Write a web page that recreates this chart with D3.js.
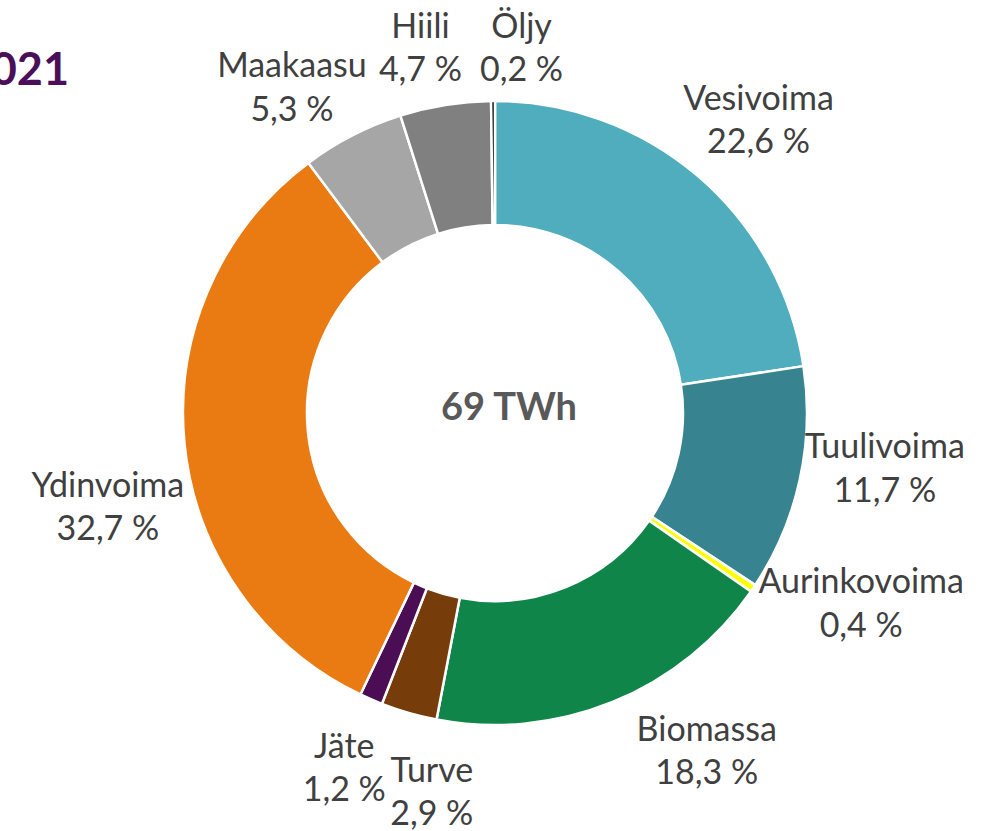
<!DOCTYPE html>
<html>
<head>
<meta charset="utf-8">
<script src="https://cdn.jsdelivr.net/npm/d3@7"></script>
<style>
  body { margin: 0; background: #fff; }
  svg { display: block; font-family: Lato, "Open Sans", sans-serif; }
</style>
</head>
<body>
<div id="chart"></div>
<script>
// electricity production by source, Finland 2021 (share, %)
const sources = ["Vesivoima", "Tuulivoima", "Aurinkovoima", "Biomassa", "Turve", "Jäte", "Ydinvoima", "Maakaasu", "Hiili", "Öljy"];
const shares = [22.6, 11.7, 0.4, 18.3, 2.9, 1.2, 32.7, 5.3, 4.7, 0.2];
const colors = ["#4fadbd", "#37838f", "#ffff00", "#10854a", "#763c0a", "#4b0e55", "#ea7a12", "#a6a6a6", "#808080", "#000000"];
const totalLabel = "69 TWh";
const yearLabel = "2021";

// label nudges (px) from the arc centroid, so text sits where Excel put it
const nudge = [[8, 3], [7, -30], [42, -31], [64, -26], [45, 1], [5, -6], [3, 55], [-24, 22], [-12, 21], [29, 26]];

const width = 981, height = 831;
const cx = 495, cy = 413;
const outerR = 312, innerR = 188, labelR = 392;

const svg = d3.select("#chart")
    .append("svg")
    .attr("width", width)
    .attr("height", height);

// year title, cut at the left edge like in the original slide
svg.append("text")
    .attr("x", 69)
    .attr("y", 85)
    .attr("text-anchor", "end")
    .attr("font-size", 45)
    .attr("font-weight", "bold")
    .attr("fill", "#4b0f5a")
    .text(yearLabel);

const g = svg.append("g")
    .attr("transform", `translate(${cx},${cy})`);

const data = sources.map((s, i) => ({ name: s, value: shares[i], color: colors[i], i: i }));

const pie = d3.pie()
    .sort(null)
    .value(d => d.value);

const arc = d3.arc()
    .innerRadius(innerR)
    .outerRadius(outerR);

const labelArc = d3.arc()
    .innerRadius(labelR)
    .outerRadius(labelR);

const arcs = pie(data);

g.selectAll("path")
    .data(arcs)
    .join("path")
    .attr("d", arc)
    .attr("fill", d => d.data.color)
    .attr("stroke", "#fff")
    .attr("stroke-width", 2.5)
    .attr("stroke-linejoin", "round");

// slice labels: name + share
const labels = g.selectAll(".lbl")
    .data(arcs)
    .join("text")
    .attr("class", "lbl")
    .attr("text-anchor", "middle")
    .attr("font-size", 34)
    .attr("fill", "#404040")
    .attr("transform", d => {
        const c = labelArc.centroid(d);
        const n = nudge[d.data.i];
        return `translate(${c[0] + n[0]},${c[1] + n[1]})`;
    });

labels.append("tspan")
    .attr("x", 0)
    .attr("dy", "-0.27em")
    .text(d => d.data.name);

labels.append("tspan")
    .attr("x", 0)
    .attr("dy", "1.28em")
    .text(d => d3.format(".1f")(d.data.value).replace(".", ",") + " %");

// total in the hole (sits a bit right of centre in the original)
g.append("text")
    .attr("text-anchor", "middle")
    .attr("x", 14)
    .attr("y", 7)
    .attr("font-size", 38)
    .attr("font-weight", "bold")
    .attr("fill", "#595959")
    .text(totalLabel);
</script>
</body>
</html>
